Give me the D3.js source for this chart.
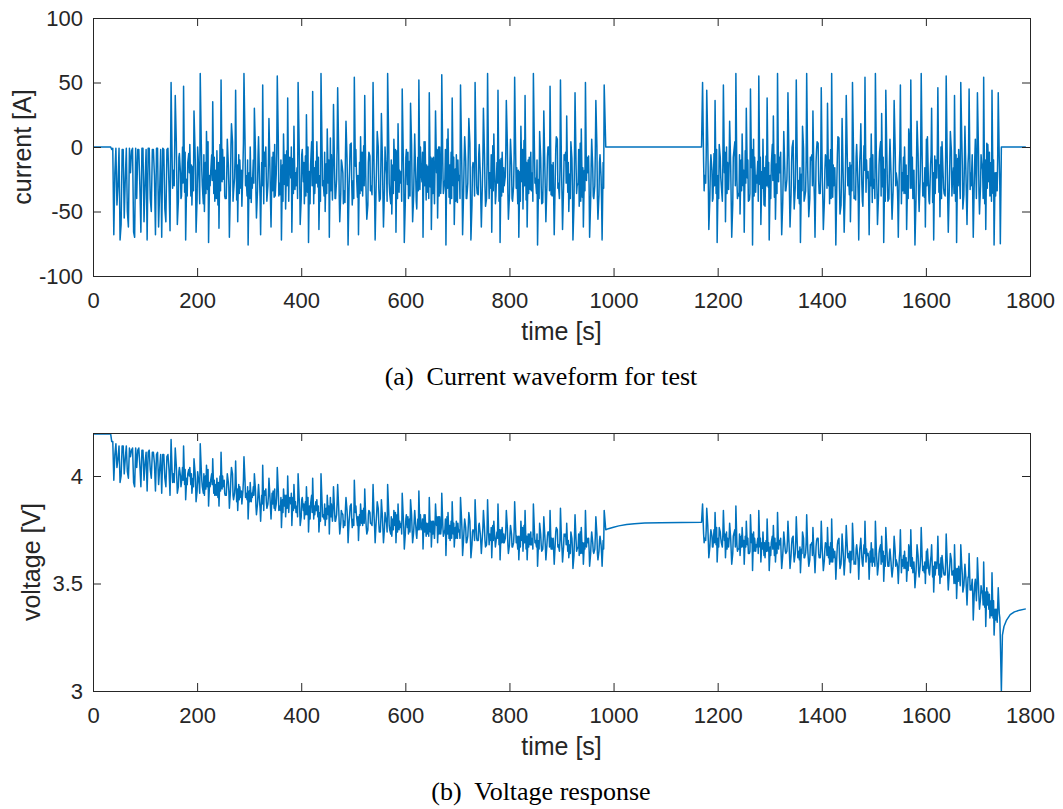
<!DOCTYPE html>
<html>
<head>
<meta charset="utf-8">
<script src="https://cdn.jsdelivr.net/npm/d3@7"></script>
<style>
  body { margin: 0; background: #fff; }
  svg { display: block; }
  .tick text { font-family: "Liberation Sans", Arial, Helvetica, sans-serif; font-size: 22px; fill: #262626; }
  .tick line { stroke: #262626; }
</style>
</head>
<body>
<svg id="fig" width="1063" height="809"></svg>
<script>
// ---- data ----
const timeTicks = [0, 200, 400, 600, 800, 1000, 1200, 1400, 1600, 1800];
const currentTicks = [-100, -50, 0, 50, 100];
const voltageTicks = [3, 3.5, 4];

// drive-cycle parts: main samples every 4 s, "mid" samples 2 s and "fill" samples 3 s after each main one
const sampleStep = 4;
const pulseStart = 36;
const burst1Start = 150;
const burst2Start = 1171;

const idleTimes = [0, 34];
const idleCurrent = [0, 0];
const idleVoltage = [4.195, 4.195];

const pulseCurrent = [-2, -68, -1, -30, -72, -2, -55, -1, -62, -20, -1, -70, -40, -2, -66,
  -1, -28, -72, -1, -50, -2, -68, -1, -35, -70, -2, -58, -1, -65];
const pulseCurrentMid = [-1, -20, -45, -1, -60, -2, -25, -50, -1, -3, -66, -1, -2, -30,
  -1, -58, -2, -1, -40, -2, -22, -1, -62, -2, -1, -48, -2, -30];
const pulseVoltage = [4.16, 3.98, 4.15, 4.08, 3.97, 4.14, 4.01, 4.14, 3.99, 4.09, 4.13, 3.95, 4.04, 4.13, 3.95,
  4.12, 4.06, 3.93, 4.12, 3.99, 4.11, 3.93, 4.11, 4.03, 3.92, 4.10, 3.95, 4.10, 3.91];
const pulseVoltageMid = [4.16, 4.10, 4.04, 4.14, 4.00, 4.14, 4.08, 4.02, 4.13, 4.12, 3.97, 4.13, 4.12, 4.05,
  4.12, 3.98, 4.11, 4.11, 4.03, 4.11, 4.06, 4.10, 3.96, 4.10, 4.10, 3.99, 4.09, 4.03];

const burst1Current = [
  50, -18, 40, -60, -5, -38, 47, -72, -12, 2,
  -45, 28, -66, -8, 57, -30, -50, 12, -74, -20,
  35, -42, -3, -63, 52, -25, -40, 6, -70, 18,
  -35, 44, -58, -10, -46, 57, -22, -76, 0, -32,
  30, -55, 8, -68, 48, -15, -42, 22, -62, -4,
  -38, 55, -28, -72, 10, -48, 38, -8, -66, 16,
  -30, 50, -60, -2, -44, 25, -74, -14, 43, -36,
  4, -64, 57, -26, -50, 14, -70, -6, 33, -40,
  46, -58, -12, -34, 20, -76, 2, -45, 54, -20,
  -68, 8, -38, 40, -56, -4, -30, 50, -72, 12,
  -42, 26, -62, -10, 57, -36, -52, 6, -66, 18,
  -28, 45, -74, -2, -40, 34, -58, 10, -48, 52,
  -18, -70, 4, -35, 42, -64, -8, 28, -55, 0,
  56, -32, -76, 14, -44, 38, -60, -6, -26, 48,
  -68, 8, -40, 22, -72, -12, 50, -36, 2, -62,
  30, -46, 57, -20, -66, 10, -38, 44, -74, -4,
  -30, 36, -56, 6, -42, 54, -16, -70, 16, -48,
  40, -62, -8, -34, 57, -24, -76, 12, -44, 28,
  -58, 0, 47, -38, -68, 8, -28, 52, -64, -10,
  24, -50, 4, -72, 42, -30, -46, 14, -62, 50,
  -20, -70, 6, -40, 36, -56, -6, -72, 48];
const burst1CurrentMid = [
  -10, -30, 5, -42, -20, 0, -35, -25, -5, -38,
  -15, -2, -40, -28, 3, -44, -12, -33, -22, -6,
  -36, -18, -45, 2, -27, -8, -40, -14, -30, 4,
  -24, -41, -6, -32, -16, 6, -38, -20, -43, -10,
  -2, -34, -26, -12, -44, 0, -30, -18, -8, -39,
  -21, 5, -37, -14, -29, -3, -42, -24, -9, -33,
  -16, 2, -40, -27, -7, -35, -19, 4, -44, -11,
  -31, -22, -1, -38, -13, -28, 7, -41, -17, -25,
  -5, -36, -20, -43, -9, -30, 3, -26, -15, -39,
  -12, -34, 1, -23, -45, -7, -37, -18, -28, 0,
  -40, -10, -32, -21, 5, -44, -14, -26, -3, -35,
  -19, -6, -42, -29, -11, 2, -38, -24, -8, -33,
  -27, 4, -41, -15, -31, -9, -44, -20, 0, -36,
  -13, -25, 6, -39, -4, -30, -17, -43, -22, -2,
  -34, -11, -28, 3, -45, -16, -7, -37, -21, -29,
  -5, -40, -18, -32, 1, -26, -12, -42, -9, -35,
  -23, 2, -38, -14, -30, -6, -44, -19, -27, 5,
  -41, -10, -33, -20, -3, -36, -25, -8, -43, -15,
  -29, 0, -37, -12, -24, 6, -40, -17, -31, -4,
  -35, -21, -9, -44, -14, -28, 3, -39, -18, -26,
  -7, -42, -16, -30, 1, -37, -23, -12];
const burst1CurrentFill = [
  -32, 2, -24, -8, -40, -28, -4, -38, -20, -14,
  -34, -22, 0, -44, -18, -6, -36, 4, -30, -26,
  -8, -40, -12, -34, -2, -38, -20, -30, 1, -42,
  -6, -14, -36, -18, 3, -30, -10, -40, -24, -28,
  -36, -8, -40, -30, -4, -26, -12, -42, -34, 2,
  -4, -38, -10, -42, -6, -30, -16, 0, -36, -20,
  -40, -24, -6, -12, -38, 0, -44, -30, -16, -28,
  -8, -42, -30, -4, -36, -10, -34, -14, -40, 1,
  -38, -10, -44, -6, -32, -16, -28, -40, -2, -22,
  -36, -4, -30, -42, -12, -34, -6, -40, -10, -32,
  -14, -38, 0, -42, -28, -10, -36, -2, -40, -18,
  -42, -26, -8, -4, -38, -30, -12, -42, -34, 0,
  -4, -30, -14, -40, -8, -36, -16, -2, -38, -24,
  -36, -2, -32, -14, -40, -8, -42, -10, -40, -28,
  -10, -40, -4, -34, -16, -38, -30, -6, -42, -8,
  -30, -12, -40, -6, -34, -44, -28, -10, -38, -16,
  -4, -36, -12, -40, -8, -32, -18, -42, -2, -30,
  -12, -36, -4, -42, -28, -10, -40, -30, -16, -36,
  -8, -34, -14, -40, -2, -32, -18, -38, -6, -28,
  -12, -40, -30, -6, -36, -2, -42, -16, -34, -8,
  -30, -14, -38, -4, -40, -12, -42, -32];
const burst1Voltage = [
  4.17, 4.01, 4.13, 3.92, 4.04, 3.97, 4.14, 3.89, 4.01, 4.04,
  3.92, 4.08, 3.88, 4.00, 4.15, 3.95, 3.91, 4.05, 3.86, 3.98,
  4.08, 3.91, 3.99, 3.86, 4.11, 3.95, 3.91, 4.01, 3.85, 4.04,
  3.89, 4.07, 3.84, 3.95, 3.87, 4.09, 3.92, 3.80, 3.97, 3.90,
  4.01, 3.82, 3.96, 3.79, 4.05, 3.91, 3.85, 3.99, 3.80, 3.93,
  3.84, 4.04, 3.86, 3.76, 3.94, 3.81, 4.00, 3.90, 3.77, 3.96,
  3.83, 4.01, 3.77, 3.90, 3.80, 3.95, 3.74, 3.87, 3.99, 3.82,
  3.89, 3.74, 4.01, 3.82, 3.77, 3.91, 3.73, 3.87, 3.95, 3.79,
  3.96, 3.73, 3.83, 3.79, 3.90, 3.69, 3.86, 3.76, 3.98, 3.82,
  3.70, 3.87, 3.77, 3.94, 3.73, 3.84, 3.78, 3.96, 3.69, 3.88,
  3.74, 3.89, 3.69, 3.81, 3.96, 3.75, 3.72, 3.84, 3.69, 3.87,
  3.76, 3.92, 3.66, 3.82, 3.73, 3.89, 3.69, 3.84, 3.71, 3.93,
  3.77, 3.66, 3.82, 3.73, 3.90, 3.67, 3.79, 3.87, 3.69, 3.81,
  3.92, 3.73, 3.63, 3.83, 3.70, 3.88, 3.67, 3.79, 3.74, 3.90,
  3.63, 3.80, 3.69, 3.83, 3.62, 3.75, 3.89, 3.70, 3.78, 3.64,
  3.84, 3.67, 3.89, 3.73, 3.62, 3.79, 3.69, 3.87, 3.61, 3.76,
  3.69, 3.84, 3.64, 3.77, 3.67, 3.88, 3.72, 3.61, 3.79, 3.65,
  3.84, 3.61, 3.73, 3.68, 3.87, 3.70, 3.58, 3.78, 3.65, 3.81,
  3.61, 3.74, 3.84, 3.66, 3.59, 3.76, 3.68, 3.85, 3.60, 3.72,
  3.78, 3.62, 3.74, 3.57, 3.82, 3.66, 3.63, 3.76, 3.59, 3.84,
  3.69, 3.58, 3.74, 3.64, 3.81, 3.61, 3.72, 3.58, 3.84];
const burst1VoltageMid = [
  4.02, 3.97, 4.05, 3.95, 4.00, 4.04, 3.96, 3.99, 4.03, 3.96,
  3.99, 4.02, 3.93, 3.96, 4.03, 3.92, 4.00, 3.95, 3.97, 4.01,
  3.92, 3.96, 3.90, 4.00, 3.94, 3.98, 3.91, 3.97, 3.93, 4.01,
  3.92, 3.88, 3.96, 3.90, 3.93, 3.98, 3.89, 3.93, 3.88, 3.95,
  3.94, 3.87, 3.88, 3.91, 3.84, 3.94, 3.87, 3.90, 3.92, 3.85,
  3.87, 3.93, 3.84, 3.89, 3.86, 3.91, 3.83, 3.87, 3.90, 3.85,
  3.86, 3.90, 3.81, 3.84, 3.88, 3.82, 3.86, 3.91, 3.80, 3.88,
  3.81, 3.83, 3.88, 3.80, 3.85, 3.82, 3.90, 3.79, 3.84, 3.82,
  3.85, 3.78, 3.82, 3.77, 3.84, 3.79, 3.87, 3.80, 3.83, 3.77,
  3.82, 3.78, 3.85, 3.80, 3.75, 3.83, 3.77, 3.81, 3.79, 3.85,
  3.74, 3.81, 3.76, 3.78, 3.84, 3.73, 3.80, 3.77, 3.82, 3.75,
  3.78, 3.81, 3.73, 3.76, 3.80, 3.82, 3.74, 3.77, 3.80, 3.75,
  3.75, 3.82, 3.72, 3.78, 3.74, 3.79, 3.71, 3.77, 3.81, 3.73,
  3.77, 3.75, 3.81, 3.71, 3.79, 3.73, 3.76, 3.71, 3.75, 3.80,
  3.71, 3.76, 3.72, 3.79, 3.68, 3.74, 3.76, 3.70, 3.73, 3.72,
  3.76, 3.68, 3.73, 3.70, 3.77, 3.71, 3.74, 3.68, 3.75, 3.69,
  3.71, 3.76, 3.68, 3.73, 3.69, 3.75, 3.66, 3.72, 3.70, 3.77,
  3.66, 3.73, 3.68, 3.71, 3.74, 3.67, 3.70, 3.73, 3.66, 3.72,
  3.68, 3.74, 3.66, 3.71, 3.69, 3.75, 3.65, 3.70, 3.67, 3.73,
  3.65, 3.68, 3.71, 3.63, 3.70, 3.67, 3.74, 3.64, 3.69, 3.67,
  3.71, 3.64, 3.69, 3.66, 3.73, 3.65, 3.68, 3.70];
const burst1VoltageFill = [
  3.97, 4.04, 3.99, 4.02, 3.95, 3.98, 4.03, 3.96, 4.00, 4.01,
  3.95, 3.97, 4.02, 3.92, 3.98, 4.01, 3.94, 4.03, 3.95, 3.96,
  3.98, 3.91, 3.97, 3.93, 4.00, 3.92, 3.96, 3.93, 4.00, 3.91,
  3.96, 3.94, 3.89, 3.93, 3.98, 3.90, 3.95, 3.88, 3.92, 3.91,
  3.86, 3.92, 3.85, 3.87, 3.93, 3.88, 3.91, 3.85, 3.87, 3.94,
  3.91, 3.84, 3.90, 3.83, 3.91, 3.85, 3.88, 3.92, 3.84, 3.88,
  3.81, 3.85, 3.89, 3.87, 3.82, 3.90, 3.80, 3.83, 3.86, 3.84,
  3.86, 3.79, 3.81, 3.87, 3.80, 3.86, 3.81, 3.85, 3.79, 3.88,
  3.78, 3.84, 3.76, 3.85, 3.79, 3.82, 3.80, 3.77, 3.86, 3.81,
  3.77, 3.84, 3.78, 3.76, 3.82, 3.78, 3.84, 3.76, 3.83, 3.78,
  3.80, 3.75, 3.83, 3.74, 3.77, 3.81, 3.75, 3.83, 3.74, 3.79,
  3.73, 3.76, 3.80, 3.81, 3.74, 3.75, 3.79, 3.73, 3.75, 3.82,
  3.80, 3.74, 3.78, 3.72, 3.79, 3.73, 3.77, 3.81, 3.73, 3.76,
  3.72, 3.80, 3.73, 3.77, 3.71, 3.78, 3.71, 3.78, 3.71, 3.74,
  3.76, 3.69, 3.77, 3.71, 3.74, 3.70, 3.71, 3.77, 3.69, 3.76,
  3.70, 3.74, 3.68, 3.76, 3.70, 3.67, 3.71, 3.75, 3.69, 3.73,
  3.75, 3.68, 3.73, 3.67, 3.74, 3.69, 3.72, 3.67, 3.76, 3.69,
  3.72, 3.67, 3.74, 3.66, 3.69, 3.73, 3.66, 3.68, 3.71, 3.67,
  3.72, 3.67, 3.71, 3.65, 3.74, 3.67, 3.70, 3.66, 3.73, 3.68,
  3.70, 3.64, 3.66, 3.72, 3.65, 3.73, 3.64, 3.69, 3.66, 3.71,
  3.66, 3.70, 3.65, 3.72, 3.64, 3.70, 3.64, 3.66];

const restTimes = [985, 990, 1000, 1010, 1025, 1040, 1060, 1090, 1130, 1169];
const restCurrent = [0, 0, 0, 0, 0, 0, 0, 0, 0, 0];
const restVoltage = [3.75, 3.755, 3.762, 3.768, 3.774, 3.778, 3.781, 3.783, 3.784, 3.785];

const burst2Current = [
  50, -22, 44, -64, -6, -40, 36, -74, 2, -30,
  48, -58, -12, 20, -70, -4, 57, -36, -52, 10,
  -66, 30, -42, 45, -76, -8, -28, 55, -60, 6,
  -46, 38, -72, -14, 24, -56, 57, -20, -68, 12,
  -34, 42, -62, 0, -48, 52, -26, -74, 16, -40,
  57, -54, -10, 28, -70, 4, -36, 46, -64, -6,
  34, -44, 57, -30, -76, 8, -52, 22, -66, 40,
  -16, -58, 50, -38, 2, -72, 18, -46, 54, -24,
  -68, 10, -32, 57, -60, -4, 26, -74, 44, -42,
  6, -56, 36, -20, -70, 48, -34, 0, -64, 14,
  52, -40, -76, 20, -50, 57, -28, -62, 8, -44,
  30, -72, -10, 46, -54, 4, -36, 55, -66, 12,
  -26, 40, -74, -2, 50, -48, 16, -60, 45, -30,
  -70, 6, 42, -52, -12, 54, -64, 2, -38, 44, -76, -20, 42, -75];
const burst2CurrentMid = [
  -12, -28, 3, -40, -18, -5, -36, -22, -8, -42,
  -20, 0, -33, -14, -44, 4, -26, -38, -10, -30,
  -3, -24, -41, -16, 6, -35, -11, -29, -19, -45,
  -7, -31, -22, 2, -39, -13, -27, -4, -43, -17,
  -25, -9, -37, 5, -32, -15, -44, -21, -1, -34,
  -18, -40, -6, -28, -12, 3, -36, -24, -42, -10,
  -30, -2, -39, -16, -26, 7, -45, -20, -33, -8,
  -37, -14, -4, -41, -23, -11, -29, 1, -35, -19,
  -9, -43, -25, -13, -38, 4, -31, -17, -6, -40,
  -21, -34, -1, -27, -15, -44, -8, -36, -22, 2,
  -32, -18, -41, -5, -26, -12, -39, 6, -29, -14,
  -43, -7, -24, -35, 0, -20, -38, -11, -31, -3,
  -16, -42, -9, -28, 5, -37, -22, -13, -33, -6,
  -25, -40, -2, -30, -18, -44, 3, -27, -12, -36, -20, -34, -10];
const burst2CurrentFill = [
  -34, -6, -26, -16, -42, -30, -2, -40, -24, -12,
  -4, -36, -14, -42, -8, -30, -40, -6, -34, -18,
  -28, -10, -36, -2, -38, -22, -42, -8, -32, -16,
  -30, -12, -40, -26, -6, -36, -8, -42, -20, -34,
  -6, -38, -12, -30, -4, -40, -16, -34, -42, -10,
  -36, -8, -30, -42, -2, -26, -14, -40, -18, -32,
  -10, -40, -14, -36, -6, -32, -20, -42, -4, -30,
  -12, -34, -40, -8, -38, -2, -42, -18, -10, -36,
  -30, -6, -40, -34, -14, -38, -8, -42, -28, -12,
  -40, -6, -30, -42, -2, -20, -36, -14, -40, -32,
  -8, -42, -12, -36, -4, -38, -16, -30, -42, -6,
  -20, -36, -2, -14, -40, -32, -8, -42, -12, -38,
  -36, -6, -30, -40, -14, -12, -42, -4, -20, -38,
  -8, -14, -36, -6, -40, -10, -32, -4, -42, -10, -38, -6, -30];
const burst2Voltage = [
  3.87, 3.71, 3.85, 3.62, 3.75, 3.67, 3.83, 3.60, 3.76, 3.69,
  3.84, 3.62, 3.71, 3.78, 3.59, 3.73, 3.86, 3.66, 3.63, 3.76,
  3.59, 3.79, 3.64, 3.82, 3.56, 3.71, 3.67, 3.84, 3.60, 3.74,
  3.62, 3.80, 3.56, 3.69, 3.77, 3.60, 3.83, 3.68, 3.57, 3.74,
  3.64, 3.79, 3.57, 3.71, 3.60, 3.81, 3.65, 3.55, 3.74, 3.62,
  3.82, 3.58, 3.68, 3.76, 3.55, 3.71, 3.62, 3.79, 3.56, 3.69,
  3.76, 3.59, 3.80, 3.62, 3.52, 3.70, 3.57, 3.73, 3.54, 3.77,
  3.64, 3.55, 3.78, 3.60, 3.68, 3.52, 3.71, 3.58, 3.79, 3.63,
  3.52, 3.69, 3.60, 3.79, 3.54, 3.66, 3.72, 3.51, 3.76, 3.58,
  3.66, 3.53, 3.72, 3.61, 3.50, 3.75, 3.58, 3.65, 3.51, 3.68,
  3.75, 3.55, 3.48, 3.68, 3.53, 3.76, 3.58, 3.50, 3.66, 3.54,
  3.68, 3.46, 3.60, 3.72, 3.50, 3.63, 3.54, 3.73, 3.47, 3.64,
  3.54, 3.68, 3.43, 3.58, 3.68, 3.46, 3.59, 3.40, 3.64, 3.47,
  3.33, 3.52, 3.62, 3.38, 3.47, 3.60, 3.30, 3.46, 3.34, 3.55, 3.26, 3.38, 3.48, 3.24];
const burst2VoltageMid = [
  3.73, 3.70, 3.77, 3.67, 3.72, 3.75, 3.68, 3.71, 3.74, 3.67,
  3.70, 3.74, 3.67, 3.71, 3.64, 3.75, 3.68, 3.66, 3.72, 3.67,
  3.72, 3.68, 3.64, 3.69, 3.74, 3.65, 3.71, 3.67, 3.69, 3.63,
  3.70, 3.65, 3.67, 3.72, 3.63, 3.69, 3.66, 3.71, 3.63, 3.68,
  3.65, 3.69, 3.63, 3.72, 3.64, 3.68, 3.61, 3.66, 3.71, 3.64,
  3.66, 3.61, 3.69, 3.64, 3.67, 3.71, 3.62, 3.65, 3.61, 3.68,
  3.62, 3.69, 3.60, 3.65, 3.63, 3.71, 3.59, 3.65, 3.62, 3.67,
  3.60, 3.65, 3.67, 3.59, 3.63, 3.66, 3.62, 3.68, 3.60, 3.64,
  3.65, 3.58, 3.62, 3.64, 3.59, 3.68, 3.60, 3.63, 3.66, 3.58,
  3.60, 3.58, 3.65, 3.59, 3.62, 3.55, 3.63, 3.57, 3.60, 3.65,
  3.57, 3.60, 3.55, 3.63, 3.58, 3.61, 3.55, 3.65, 3.58, 3.61,
  3.53, 3.60, 3.57, 3.54, 3.62, 3.58, 3.54, 3.60, 3.55, 3.61,
  3.56, 3.50, 3.57, 3.52, 3.58, 3.49, 3.52, 3.53, 3.47, 3.52,
  3.46, 3.42, 3.50, 3.43, 3.45, 3.39, 3.48, 3.38, 3.42, 3.34, 3.38, 3.32, 3.36];
const burst2VoltageFill = [
  3.69, 3.75, 3.70, 3.72, 3.67, 3.69, 3.76, 3.67, 3.71, 3.73,
  3.73, 3.66, 3.71, 3.65, 3.72, 3.67, 3.65, 3.73, 3.67, 3.70,
  3.67, 3.71, 3.65, 3.73, 3.65, 3.68, 3.64, 3.71, 3.66, 3.69,
  3.65, 3.69, 3.63, 3.66, 3.71, 3.64, 3.70, 3.63, 3.68, 3.65,
  3.70, 3.63, 3.68, 3.64, 3.70, 3.62, 3.67, 3.64, 3.62, 3.69,
  3.62, 3.68, 3.63, 3.61, 3.70, 3.64, 3.67, 3.61, 3.66, 3.63,
  3.67, 3.60, 3.66, 3.61, 3.68, 3.62, 3.65, 3.60, 3.68, 3.62,
  3.65, 3.61, 3.59, 3.66, 3.60, 3.68, 3.59, 3.64, 3.66, 3.60,
  3.60, 3.66, 3.58, 3.60, 3.64, 3.59, 3.65, 3.58, 3.61, 3.64,
  3.56, 3.64, 3.58, 3.56, 3.65, 3.61, 3.57, 3.62, 3.56, 3.58,
  3.62, 3.55, 3.61, 3.56, 3.63, 3.56, 3.60, 3.57, 3.55, 3.63,
  3.58, 3.54, 3.62, 3.59, 3.53, 3.55, 3.60, 3.53, 3.59, 3.54,
  3.50, 3.57, 3.51, 3.49, 3.54, 3.54, 3.46, 3.53, 3.49, 3.45,
  3.50, 3.48, 3.43, 3.49, 3.40, 3.46, 3.40, 3.45, 3.35, 3.42, 3.33, 3.40, 3.34];

const tailTimes = [1745, 1747, 1750, 1755, 1762, 1770, 1780, 1792];
const tailCurrent = [0, 0, 0, 0, 0, 0, 0, 0];
const tailVoltage = [3.0, 3.26, 3.30, 3.33, 3.355, 3.368, 3.376, 3.382];

// ---- build series ----
// layers: [offset in s after each main sample, values]
const sampled = (start, layers) => layers.flatMap(([offset, values]) =>
  values.map((v, i) => ({ t: start + i * sampleStep + offset, v })));
const paired = (times, values) => times.map((t, i) => ({ t, v: values[i] }));
const byTime = (a, b) => a.t - b.t;

const currentSeries = [].concat(
  paired(idleTimes, idleCurrent),
  sampled(pulseStart, [[0, pulseCurrent], [2, pulseCurrentMid]]),
  sampled(burst1Start, [[0, burst1Current], [2, burst1CurrentMid], [3, burst1CurrentFill]]),
  paired(restTimes, restCurrent),
  sampled(burst2Start, [[0, burst2Current], [2, burst2CurrentMid], [3, burst2CurrentFill]]),
  paired(tailTimes, tailCurrent)).sort(byTime);

const voltageSeries = [].concat(
  paired(idleTimes, idleVoltage),
  sampled(pulseStart, [[0, pulseVoltage], [2, pulseVoltageMid]]),
  sampled(burst1Start, [[0, burst1Voltage], [2, burst1VoltageMid], [3, burst1VoltageFill]]),
  paired(restTimes, restVoltage),
  sampled(burst2Start, [[0, burst2Voltage], [2, burst2VoltageMid], [3, burst2VoltageFill]]),
  paired(tailTimes, tailVoltage)).sort(byTime);

// ---- drawing ----
const svg = d3.select("#fig");
svg.append("rect").attr("width", 1063).attr("height", 809).attr("fill", "#fff");

const left = 93, right = 1030;
const sansFont = '"Liberation Sans", Arial, Helvetica, sans-serif';
const serifFont = '"Liberation Serif", "Times New Roman", Times, serif';

function panel(id, top, bottom, yDomain, yTicks, yLabel, labelX, series, caption) {
  const x = d3.scaleLinear().domain([0, 1800]).range([left, right]);
  const y = d3.scaleLinear().domain(yDomain).range([bottom, top]);
  const g = svg.append("g");

  g.append("clipPath").attr("id", "clip-" + id)
    .append("rect").attr("x", left).attr("y", top - 1)
    .attr("width", right - left).attr("height", bottom - top + 2);

  const line = d3.line().x(d => x(d.t)).y(d => y(d.v));
  g.append("path")
    .datum(series)
    .attr("clip-path", `url(#clip-${id})`)
    .attr("d", line)
    .attr("fill", "none")
    .attr("stroke", "#0072BD")
    .attr("stroke-width", 1.5)
    .attr("stroke-linejoin", "round");

  const fmt = d => String(d);

  g.append("g").attr("transform", `translate(0,${bottom})`)
    .call(d3.axisBottom(x).tickValues(timeTicks).tickFormat(fmt).tickSizeInner(-8).tickSizeOuter(0).tickPadding(16))
    .call(a => a.select(".domain").remove());
  g.append("g").attr("transform", `translate(0,${top})`)
    .call(d3.axisTop(x).tickValues(timeTicks).tickFormat("").tickSizeInner(-8).tickSizeOuter(0))
    .call(a => a.select(".domain").remove());
  g.append("g").attr("transform", `translate(${left},0)`)
    .call(d3.axisLeft(y).tickValues(yTicks).tickFormat(fmt).tickSizeInner(-8).tickSizeOuter(0).tickPadding(10))
    .call(a => a.select(".domain").remove());
  g.append("g").attr("transform", `translate(${right},0)`)
    .call(d3.axisRight(y).tickValues(yTicks).tickFormat("").tickSizeInner(-8).tickSizeOuter(0))
    .call(a => a.select(".domain").remove());

  g.append("rect")
    .attr("x", left + 0.5).attr("y", top + 0.5)
    .attr("width", right - left).attr("height", bottom - top)
    .attr("fill", "none").attr("stroke", "#262626").attr("stroke-width", 1);

  g.append("text")
    .attr("x", (left + right) / 2).attr("y", bottom + 64)
    .attr("text-anchor", "middle")
    .style("font-family", sansFont).style("font-size", "25px").style("fill", "#262626")
    .text("time [s]");

  g.append("text")
    .attr("transform", `translate(${labelX},${(top + bottom) / 2}) rotate(-90)`)
    .attr("text-anchor", "middle")
    .style("font-family", sansFont).style("font-size", "25px").style("fill", "#262626")
    .text(yLabel);

  g.append("text")
    .attr("x", 541).attr("y", bottom + 109)
    .attr("text-anchor", "middle")
    .style("white-space", "pre")
    .style("font-family", serifFont).style("font-size", "26px").style("fill", "#000")
    .text(caption);
}

panel("cur", 18, 276, [-100, 100], currentTicks, "current [A]", 31, currentSeries, "(a)  Current waveform for test");
panel("volt", 433, 691, [3, 4.2], voltageTicks, "voltage [V]", 40, voltageSeries, "(b)  Voltage response");
</script>
</body>
</html>
